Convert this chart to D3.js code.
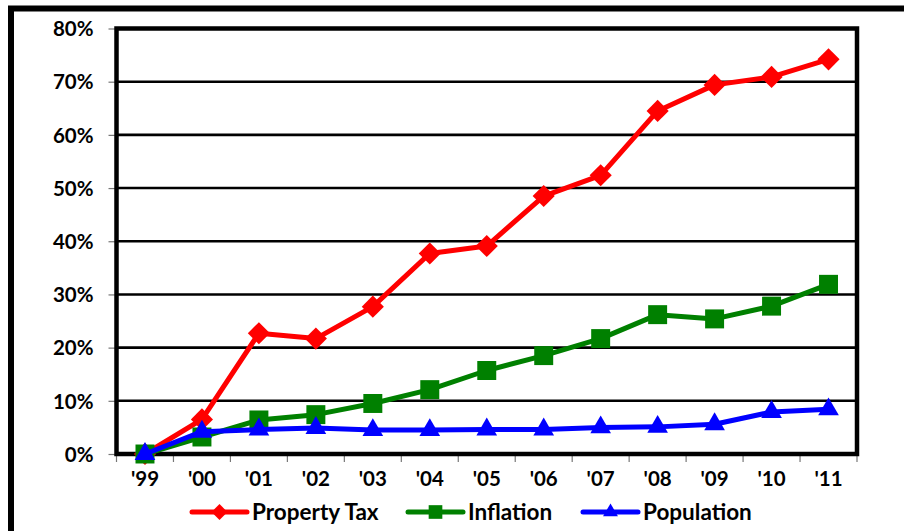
<!DOCTYPE html>
<html>
<head>
<meta charset="utf-8">
<script src="https://cdn.jsdelivr.net/npm/d3@7"></script>
<style>
html,body{margin:0;padding:0;background:#fff;}
svg{display:block;}
text{font-family:Lato,"Liberation Sans",Arial,sans-serif;font-weight:bold;fill:#000;}
</style>
</head>
<body>
<svg id="chart" width="904" height="531"></svg>
<script>
const categories = ["'99","'00","'01","'02","'03","'04","'05","'06","'07","'08","'09","'10","'11"];
const propertyTax = [0, 6.5, 22.7, 21.7, 27.7, 37.7, 39.1, 48.5, 52.4, 64.5, 69.4, 70.9, 74.2];
const inflation   = [0, 3.2, 6.4, 7.4, 9.5, 12.1, 15.7, 18.5, 21.7, 26.2, 25.4, 27.8, 31.9];
const population  = [0, 4.2, 4.6, 4.9, 4.5, 4.5, 4.6, 4.6, 5.0, 5.1, 5.6, 7.9, 8.4];
const yTicks = [0,10,20,30,40,50,60,70,80];
const seriesNames = ["Property Tax","Inflation","Population"];
const seriesColors = ["#ff0000","#008000","#0000ff"];

const svg = d3.select("#chart");
const L = 116.5, R = 857, T = 28.5, B = 454;

// outer border
svg.append("rect").attr("x",11).attr("y",8.5).attr("width",1200).attr("height",1200)
  .attr("fill","none").attr("stroke","#000").attr("stroke-width",6);

const x = d3.scaleBand().domain(categories).range([L,R]);
const y = d3.scaleLinear().domain([0,80]).range([B,T]);

// gridlines
svg.append("g").selectAll("line").data(yTicks.slice(1)).join("line")
  .attr("x1",L).attr("x2",R).attr("y1",d=>y(d)).attr("y2",d=>y(d))
  .attr("stroke","#000").attr("stroke-width",2.6);

// y axis
const yAxis = svg.append("g").attr("transform",`translate(${L},0)`)
  .call(d3.axisLeft(y).tickValues(yTicks).tickFormat(d=>d+"%").tickSize(8).tickPadding(15));
yAxis.select(".domain").remove();
yAxis.selectAll(".tick line").attr("stroke","#777").attr("stroke-width",1.2);
yAxis.selectAll(".tick text").style("font-size","20.5px").attr("dy","0.35em");

// x axis
const xAxis = svg.append("g").attr("transform",`translate(0,${B})`)
  .call(d3.axisBottom(x).tickSize(0).tickPadding(17));
xAxis.select(".domain").remove();
xAxis.selectAll(".tick text").style("font-size","20.5px");
// boundary ticks
const bounds = categories.map(c=>x(c)).concat([R]);
svg.append("g").selectAll("line").data(bounds).join("line")
  .attr("x1",d=>d).attr("x2",d=>d).attr("y1",B).attr("y2",B+8)
  .attr("stroke","#777").attr("stroke-width",1.2);

// plot frame
svg.append("rect").attr("x",L).attr("y",T).attr("width",R-L).attr("height",B-T)
  .attr("fill","none").attr("stroke","#000").attr("stroke-width",4.5);

const cx = c => x(c) + x.bandwidth()/2;
const series = [propertyTax, inflation, population];
const symbols = [d3.symbol().type(d3.symbolSquare).size(245),
                 d3.symbol().type(d3.symbolSquare).size(360),
                 d3.symbol().type(d3.symbolTriangle).size(185)];
const rot = [45,0,0];
const line = d3.line().x((d,i)=>cx(categories[i])).y(d=>y(d));

series.forEach((vals,k)=>{
  const g = svg.append("g");
  g.append("path").datum(vals).attr("d",line).attr("fill","none")
    .attr("stroke",seriesColors[k]).attr("stroke-width",5).attr("stroke-linejoin","round");
  g.selectAll("path.m").data(vals).join("path").attr("class","m")
    .attr("d",symbols[k]).attr("fill",seriesColors[k])
    .attr("transform",(d,i)=>`translate(${cx(categories[i])},${y(d)}) rotate(${rot[k]})`);
});

// legend
const legX = [192, 408, 583];
const leg = svg.append("g");
seriesNames.forEach((name,k)=>{
  const g = leg.append("g").attr("transform",`translate(${legX[k]},512)`);
  g.append("line").attr("x1",0).attr("x2",55).attr("y1",0).attr("y2",0)
    .attr("stroke",seriesColors[k]).attr("stroke-width",5).attr("stroke-linecap","round");
  g.append("path").attr("d",symbols[k]).attr("fill",seriesColors[k])
    .attr("transform",`translate(27.5,0) rotate(${rot[k]}) scale(0.72)`);
  g.append("text").attr("x",60).attr("y",0).attr("dy","0.35em")
    .style("font-size","22.5px").text(name);
});
</script>
</body>
</html>
